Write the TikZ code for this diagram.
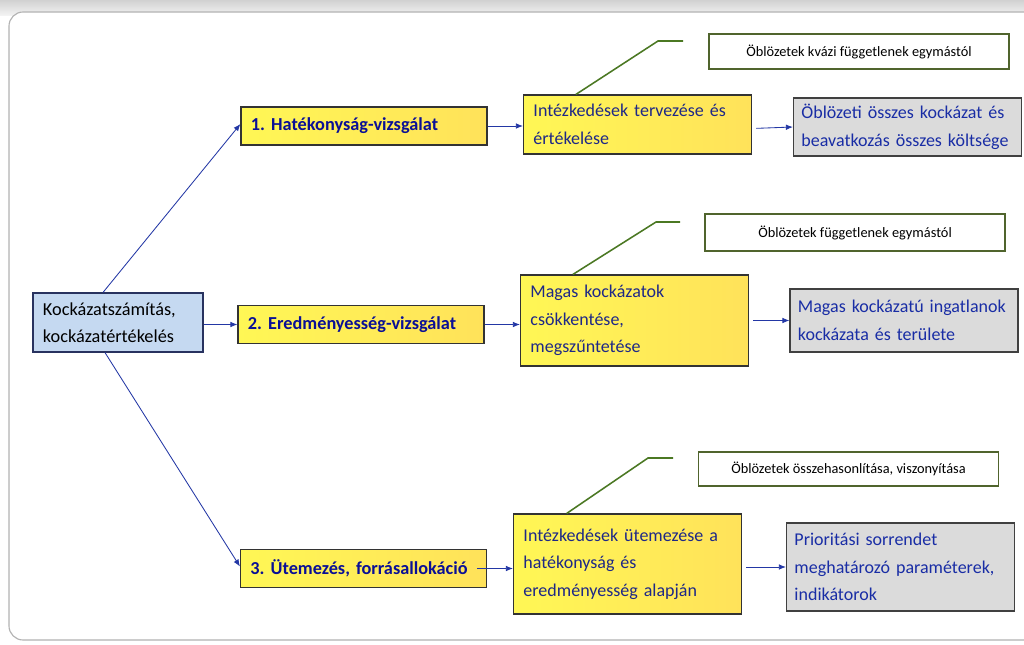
\documentclass[tikz,border=0pt]{standalone}
\usepackage{fontspec}
\setmainfont{Carlito}
\usetikzlibrary{arrows.meta}
\frenchspacing

\definecolor{yelA}{RGB}{255,247,85}
\definecolor{yelB}{RGB}{255,226,90}
\definecolor{stepblue}{RGB}{10,15,150}
\definecolor{midblue}{RGB}{30,40,135}
\definecolor{resblue}{RGB}{25,45,165}
\definecolor{lineblue}{RGB}{35,55,165}
\definecolor{noteedge}{RGB}{80,100,45}
\definecolor{calloutgreen}{RGB}{75,120,35}
\definecolor{riskfill}{RGB}{197,217,241}
\definecolor{riskedge}{RGB}{40,50,95}

\tikzset{
  box/.style={draw, inner xsep=0.25cm, inner ysep=0pt, align=left,
    font=\fontsize{12.8}{19.5}\selectfont},
  riskbox/.style={box, fill=riskfill, draw=riskedge, line width=0.8pt,
    font=\fontsize{13}{19.5}\selectfont},
  stepbox/.style={box, left color=yelA, right color=yelB, draw=black!80,
    line width=0.8pt, text=stepblue, font=\fontsize{13}{19.5}\selectfont\bfseries,
    text width=5.65cm, minimum height=0.95cm},
  actbox/.style={box, left color=yelA, right color=yelB, draw=black!80,
    line width=0.8pt, text=midblue, text width=5.2cm},
  resbox/.style={box, fill=black!14, draw=black!75, line width=0.8pt,
    text=resblue, inner xsep=0.2cm, text width=5.3cm},
  notebox/.style={draw=noteedge, line width=0.8pt, fill=white, align=center,
    font=\fontsize{10.2}{12}\selectfont, minimum width=7.5cm},
  arr/.style={draw=lineblue, line width=0.6pt, -{Latex[length=5pt,width=4pt]}},
  callout/.style={draw=calloutgreen, line width=1.1pt}
}

\begin{document}
\begin{tikzpicture}[x=0.025cm, y=-0.025cm]
\useasboundingbox (0,0) rectangle (1024,644);
\clip (0,0) rectangle (1024,644);

% frame
\shade[top color=black!18, bottom color=black!4] (0,0) rectangle (1024,16);
\draw[black!30, fill=white, line width=0.8pt, rounded corners=10pt] (9,12) rectangle (1050,640);

% left
\node[riskbox, text width=3.75cm, minimum height=1.475cm] (risk) at (118,322.5)
  {Kockázatszámítás,\\kockázatértékelés};

% steps
\node[stepbox] (eff) at (364,126) {1. Hatékonyság-vizsgálat};
\node[stepbox] (res) at (361,324.5) {2. Eredményesség-vizsgálat};
\node[stepbox] (sch) at (363.5,568.5) {3. Ütemezés, forrásallokáció};

% measures
\node[actbox, minimum height=1.475cm] (plan) at (637.5,124.5)
  {Intézkedések tervezése és\\értékelése};
\node[actbox, minimum height=2.275cm] (red) at (634.5,320.5)
  {Magas kockázatok\\csökkentése,\\megszűntetése};
\node[actbox, minimum height=2.5cm] (ord) at (627.5,564)
  {Intézkedések ütemezése a\\hatékonyság és\\eredményesség alapján};

% results
\node[resbox, minimum height=1.45cm] (cost) at (907.5,127)
  {Öblözeti összes kockázat és\\beavatkozás összes költsége};
\node[resbox, minimum height=1.575cm] (high) at (904,320.5)
  {Magas kockázatú ingatlanok\\kockázata és területe};
\node[resbox, minimum height=2.2cm] (prio) at (900.5,567)
  {Prioritási sorrendet\\meghatározó paraméterek,\\indikátorok};

% notes
\node[notebox, minimum height=0.875cm] (n1) at (859,51.5) {Öblözetek kvázi függetlenek egymástól};
\node[notebox, minimum height=0.925cm] (n2) at (855,232.5) {Öblözetek függetlenek egymástól};
\node[notebox, minimum height=0.85cm] (n3) at (848.5,469) {Öblözetek összehasonlítása, viszonyítása};

\coordinate (k1) at (658,41);  \coordinate (e1) at (683,41);
\coordinate (k2) at (656,222); \coordinate (e2) at (680,222);
\coordinate (k3) at (648,458); \coordinate (e3) at (673,458);

\draw[callout] ([xshift=-1.54cm]plan.north) -- (k1) -- (e1);
\draw[callout] ([xshift=-1.54cm]red.north) -- (k2) -- (e2);
\draw[callout] ([xshift=-1.52cm]ord.north) -- (k3) -- (e3);

% arrows
\draw[arr] ([xshift=-0.375cm]risk.north) -- ([yshift=0.05cm]eff.west);
\draw[arr] (risk.east |- res.west) -- (res.west);
\draw[arr] ([xshift=-0.325cm]risk.south) -- ([yshift=0.05cm]sch.west);

\draw[arr] (eff.east) -- (plan.west |- eff.east);
\draw[arr] (res.east) -- (red.west |- res.east);
\draw[arr] ([xshift=-0.25cm]sch.east) -- (ord.west |- sch.east);

\draw[arr, shorten <=3pt] ([yshift=-0.1cm]plan.east) -- (cost.west);
\draw[arr, shorten <=3pt] (red.east) -- (high.west);
\draw[arr, shorten <=3pt] (ord.east |- prio.west) -- (prio.west);
\end{tikzpicture}
\end{document}
